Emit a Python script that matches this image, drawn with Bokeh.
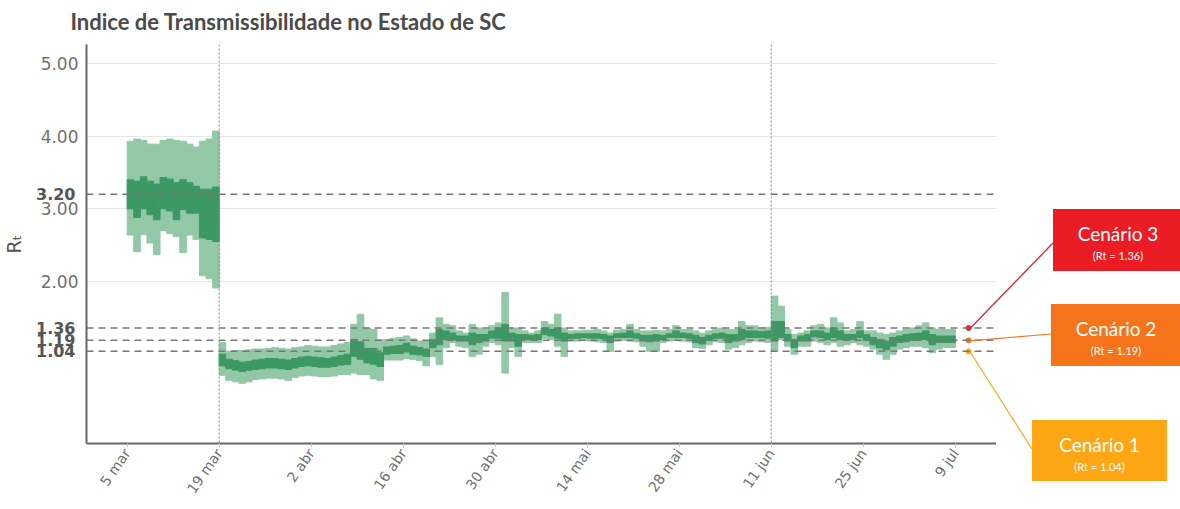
import math
import pandas as pd
from bokeh.plotting import figure
from bokeh.layouts import row
from bokeh.models import (Range1d, FixedTicker, Span, LinearAxis, ColumnDataSource, Div)
from bokeh.embed import file_html
from bokeh.resources import INLINE

# ---------------- data ----------------
start_phase1 = "2020-03-05"   # 14 daily estimates
start_phase2 = "2020-03-19"   # 112 daily estimates

hi95_1 = [3.93, 3.96, 3.94, 3.89, 3.89, 3.94, 3.96, 3.94, 3.93, 3.89, 3.85, 3.93, 3.96, 4.07]
hi50_1 = [3.40, 3.38, 3.44, 3.38, 3.34, 3.43, 3.41, 3.36, 3.40, 3.36, 3.31, 3.27, 3.27, 3.30]
lo50_1 = [3.00, 2.88, 3.00, 2.92, 2.85, 3.00, 2.97, 2.85, 2.99, 2.94, 2.94, 2.60, 2.58, 2.55]
lo95_1 = [2.64, 2.41, 2.65, 2.53, 2.37, 2.70, 2.66, 2.62, 2.40, 2.64, 2.58, 2.08, 2.04, 1.91]

hi95_2 = [1.16, 1.04, 1.05, 1.05, 1.06, 1.07, 1.07, 1.08, 1.09, 1.08, 1.07, 1.09, 1.10, 1.12,
          1.11, 1.10, 1.10, 1.12, 1.14, 1.16, 1.41, 1.55, 1.36, 1.34, 1.20, 1.20, 1.22, 1.23,
          1.25, 1.21, 1.18, 1.18, 1.29, 1.50, 1.41, 1.39, 1.32, 1.29, 1.41, 1.36, 1.34, 1.39,
          1.43, 1.85, 1.36, 1.36, 1.32, 1.29, 1.32, 1.45, 1.41, 1.55, 1.36, 1.32, 1.32, 1.33,
          1.33, 1.34, 1.32, 1.29, 1.33, 1.34, 1.41, 1.34, 1.32, 1.32, 1.33, 1.32, 1.34, 1.39,
          1.34, 1.34, 1.32, 1.29, 1.32, 1.34, 1.36, 1.34, 1.34, 1.45, 1.39, 1.39, 1.36, 1.37,
          1.80, 1.66, 1.34, 1.27, 1.29, 1.32, 1.39, 1.41, 1.36, 1.50, 1.43, 1.32, 1.34, 1.45,
          1.32, 1.32, 1.29, 1.27, 1.29, 1.32, 1.34, 1.36, 1.39, 1.43, 1.36, 1.34, 1.34, 1.34]
hi50_2 = [1.00, 0.93, 0.91, 0.89, 0.90, 0.92, 0.93, 0.94, 0.94, 0.93, 0.92, 0.94, 0.96, 0.97,
          0.96, 0.95, 0.94, 0.96, 0.98, 1.00, 1.20, 1.17, 1.08, 1.08, 1.02, 1.10, 1.11, 1.12,
          1.15, 1.11, 1.09, 1.07, 1.20, 1.34, 1.32, 1.29, 1.25, 1.25, 1.29, 1.27, 1.27, 1.32,
          1.36, 1.41, 1.29, 1.27, 1.27, 1.26, 1.27, 1.36, 1.34, 1.36, 1.29, 1.27, 1.28, 1.28,
          1.28, 1.28, 1.27, 1.25, 1.28, 1.29, 1.32, 1.28, 1.26, 1.26, 1.27, 1.26, 1.28, 1.32,
          1.29, 1.28, 1.26, 1.23, 1.26, 1.28, 1.29, 1.27, 1.27, 1.34, 1.32, 1.32, 1.31, 1.32,
          1.45, 1.45, 1.27, 1.20, 1.25, 1.27, 1.32, 1.32, 1.29, 1.36, 1.32, 1.27, 1.27, 1.32,
          1.27, 1.23, 1.20, 1.18, 1.23, 1.25, 1.27, 1.28, 1.29, 1.32, 1.27, 1.25, 1.25, 1.25]
lo50_2 = [0.84, 0.80, 0.78, 0.76, 0.78, 0.79, 0.80, 0.81, 0.81, 0.80, 0.79, 0.81, 0.83, 0.84,
          0.83, 0.82, 0.82, 0.83, 0.85, 0.86, 0.97, 0.93, 0.88, 0.86, 0.83, 1.00, 1.01, 1.01,
          1.03, 1.00, 0.99, 0.97, 1.09, 1.13, 1.20, 1.20, 1.18, 1.18, 1.13, 1.16, 1.18, 1.22,
          1.22, 1.18, 1.18, 1.11, 1.20, 1.20, 1.20, 1.27, 1.25, 1.22, 1.18, 1.22, 1.22, 1.23,
          1.22, 1.22, 1.21, 1.16, 1.23, 1.23, 1.23, 1.22, 1.18, 1.17, 1.18, 1.20, 1.23, 1.23,
          1.23, 1.22, 1.16, 1.14, 1.19, 1.22, 1.22, 1.16, 1.18, 1.20, 1.23, 1.23, 1.23, 1.22,
          1.18, 1.23, 1.18, 1.09, 1.18, 1.18, 1.24, 1.23, 1.20, 1.23, 1.20, 1.19, 1.20, 1.23,
          1.19, 1.13, 1.09, 1.06, 1.11, 1.16, 1.17, 1.19, 1.20, 1.20, 1.13, 1.16, 1.16, 1.16]
lo95_2 = [0.71, 0.64, 0.62, 0.60, 0.62, 0.65, 0.66, 0.67, 0.67, 0.66, 0.64, 0.68, 0.70, 0.71,
          0.70, 0.69, 0.69, 0.70, 0.72, 0.72, 0.74, 0.72, 0.72, 0.66, 0.64, 0.92, 0.92, 0.92,
          0.94, 0.93, 0.91, 0.84, 0.97, 0.86, 1.09, 1.16, 1.11, 1.09, 0.97, 1.00, 1.11, 1.16,
          1.13, 0.74, 1.09, 0.97, 1.16, 1.16, 1.16, 1.22, 1.20, 1.11, 0.97, 1.18, 1.18, 1.19,
          1.18, 1.17, 1.16, 1.04, 1.18, 1.19, 1.18, 1.17, 1.11, 1.04, 1.04, 1.16, 1.18, 1.19,
          1.18, 1.17, 1.09, 1.08, 1.13, 1.17, 1.16, 1.07, 1.09, 1.13, 1.16, 1.18, 1.17, 1.16,
          1.04, 1.20, 1.11, 1.00, 1.11, 1.11, 1.18, 1.16, 1.13, 1.16, 1.11, 1.13, 1.16, 1.13,
          1.11, 1.07, 1.00, 0.93, 1.00, 1.07, 1.09, 1.11, 1.11, 1.09, 1.02, 1.07, 1.09, 1.09]

tick_dates = ["2020-03-05", "2020-03-19", "2020-04-02", "2020-04-16", "2020-04-30",
              "2020-05-14", "2020-05-28", "2020-06-11", "2020-06-25", "2020-07-09"]
tick_labels = ["5 mar", "19 mar", "2 abr", "16 abr", "30 abr",
               "14 mai", "28 mai", "11 jun", "25 jun", "9 jul"]
y_ticks = [2, 3, 4, 5]
y_tick_labels = ["2.00", "3.00", "4.00", "5.00"]
ref_levels = [3.20, 1.36, 1.19, 1.04]
ref_labels = ["3.20", "1.36", "1.19", "1.04"]
event_dates = ["2020-03-19", "2020-06-11"]

scenario_names = ["Cenário 3", "Cenário 2", "Cenário 1"]
scenario_rt = [1.36, 1.19, 1.04]
scenario_sub = ["(Rt = 1.36)", "(Rt = 1.19)", "(Rt = 1.04)"]
scenario_colors = ["#EC1C24", "#F5731A", "#FFA614"]
scenario_date = "2020-07-11"

# ---------------- layout constants (page pixels) ----------------
FRAME_L, FRAME_T, FRAME_W, FRAME_H = 88, 45, 910, 399
PAGE_T, PAGE_B = 8, 501
SIDE_L, SIDE_R = 998, 1172
OVL_L, OVL_R = 960, 1180          # overlay area for connectors and boxes
# scenario boxes (page px): left, top, width, height, connector y
boxes = [
    (1053, 209, 130, 62, 243),
    (1051, 304, 130, 62, 334),
    (1032, 420, 135, 61, 449),
]


def ms(d):
    return pd.Timestamp(d).value / 1e6


DAY = 86400000.0
LIGHT = "#92C8A6"
DARK = "#3C9962"

X0 = ms("2020-03-05") - 6.19 * DAY
X1 = ms("2020-07-15") + 0.26 * DAY
Y0, Y1 = -0.229, 5.261


def to_page(x, y):
    return (FRAME_L + (x - X0) / (X1 - X0) * FRAME_W,
            FRAME_T + (Y1 - y) / (Y1 - Y0) * FRAME_H)


def band_source(start, hi95, hi50, lo50, lo95):
    days = pd.date_range(start, periods=len(hi95), freq="D")
    left = [ms(d) for d in days]
    right = [l + DAY for l in left]
    return ColumnDataSource(dict(left=left, right=right, hi95=hi95, hi50=hi50,
                                 lo50=lo50, lo95=lo95))


src1 = band_source(start_phase1, hi95_1, hi50_1, lo50_1, lo95_1)
src2 = band_source(start_phase2, hi95_2, hi50_2, lo50_2, lo95_2)

p = figure(frame_width=FRAME_W, frame_height=FRAME_H, x_axis_type="datetime",
           x_range=Range1d(X0, X1), y_range=Range1d(Y0, Y1),
           output_backend="svg", toolbar_location=None,
           min_border_left=80, min_border_right=0, min_border_top=37,
           min_border_bottom=56)
p.outline_line_color = None

# title
p.title.text = "Indice de Transmissibilidade no Estado de SC"
p.title.text_font = "Lato"
p.title.text_font_size = "22px"
p.title.text_font_style = "bold"
p.title.text_color = "#4a4a4a"
p.title.offset = -16
p.title.standoff = 15
p.title.vertical_align = "top"

# bands
for src in (src1, src2):
    p.quad(left="left", right="right", bottom="lo95", top="hi95", source=src,
           fill_color=LIGHT, line_color=LIGHT, line_width=1)
    p.quad(left="left", right="right", bottom="lo50", top="hi50", source=src,
           fill_color=DARK, line_color=DARK, line_width=1)

# x axis
p.xaxis.ticker = FixedTicker(ticks=[ms(d) for d in tick_dates])
p.xaxis.major_label_overrides = {ms(d): lab for d, lab in zip(tick_dates, tick_labels)}
p.xaxis.major_label_orientation = 0.96
p.xaxis.major_label_text_font = "DejaVu Sans"
p.xaxis.major_label_text_font_size = "14px"
p.xaxis.major_label_text_color = "#6e6e6e"
p.xaxis.axis_line_color = "#666666"
p.xaxis.axis_line_width = 2
p.xaxis.major_tick_line_color = "#c8c8c8"
p.xaxis.major_tick_in = 0
p.xaxis.major_tick_out = 4
p.xaxis.minor_tick_line_color = None
p.xaxis.major_label_standoff = 3

# y axis (regular ticks)
ax = p.yaxis[0]
ax.ticker = FixedTicker(ticks=y_ticks)
ax.major_label_overrides = {t: lab for t, lab in zip(y_ticks, y_tick_labels)}
ax.major_label_text_font = "DejaVu Sans"
ax.major_label_text_font_size = "17px"
ax.major_label_text_color = "#707070"
ax.axis_line_color = "#666666"
ax.axis_line_width = 2
ax.major_tick_line_color = None
ax.major_tick_in = 0
ax.major_tick_out = 0
ax.minor_tick_line_color = None
ax.major_label_standoff = 8

# second y axis: bold reference levels drawn over the same column
ref_axis = LinearAxis(ticker=FixedTicker(ticks=ref_levels),
                      major_label_overrides={v: s for v, s in zip(ref_levels, ref_labels)},
                      axis_line_color=None, major_tick_line_color=None,
                      minor_tick_line_color=None, major_tick_in=0, major_tick_out=0,
                      major_label_text_font="DejaVu Sans",
                      major_label_text_font_size="16px",
                      major_label_text_font_style="bold",
                      major_label_text_color="#555555",
                      major_label_standoff=-38,
                      axis_label="Rₜ", axis_label_text_font="DejaVu Sans",
                      axis_label_text_font_size="19px",
                      axis_label_text_font_style="normal",
                      axis_label_text_color="#555555", axis_label_standoff=8)
p.add_layout(ref_axis, "left")

p.xgrid.visible = False
p.ygrid.ticker = FixedTicker(ticks=y_ticks)
p.ygrid.grid_line_color = "#e6e6e6"

# reference lines
for lvl in ref_levels:
    p.add_layout(Span(location=lvl, dimension="width", line_color="#777777",
                      line_dash="7 5", line_width=1.5))
for d in event_dates:
    p.add_layout(Span(location=ms(d), dimension="height", line_color="#888888",
                      line_dash="2 2", line_width=1))

# scenario markers
sx = ms(scenario_date)
p.scatter(x=[sx] * 3, y=scenario_rt, color=scenario_colors, size=5)

# overlay with connectors and scenario boxes (HTML, fixed page-pixel geometry)
OW, OH = OVL_R - OVL_L, PAGE_B - PAGE_T
starts = [to_page(sx, rt) for rt in scenario_rt]
lines = "".join(
    f'<line x1="{s[0]-OVL_L:.2f}" y1="{s[1]-PAGE_T:.2f}" x2="{b[0]-OVL_L}" '
    f'y2="{b[4]-PAGE_T}" stroke="{c}" stroke-width="1.2"/>'
    for s, b, c in zip(starts, boxes, scenario_colors))
cards = "".join(
    f'<div style="position:absolute;left:{b[0]-OVL_L}px;top:{b[1]-PAGE_T}px;'
    f'width:{b[2]}px;height:{b[3]}px;background:{c};color:white;'
    f'font-family:Lato,sans-serif;text-align:center;">'
    f'<div style="position:absolute;left:0;right:0;top:14px;font-size:19px;'
    f'line-height:22px;">{n}</div>'
    f'<div style="position:absolute;left:0;right:0;top:40px;font-size:11px;'
    f'line-height:13px;">{s}</div></div>'
    for b, c, n, s in zip(boxes, scenario_colors, scenario_names, scenario_sub))
html = (f'<div style="position:fixed;left:{OVL_L}px;top:{PAGE_T}px;width:{OW}px;'
        f'height:{OH}px;overflow:hidden;pointer-events:none;">'
        f'<svg width="{OW}" height="{OH}" style="position:absolute;left:0;top:0;">'
        f'{lines}</svg>{cards}</div>')
side = Div(text=html, width=SIDE_R - SIDE_L, height=OH, margin=(0, 0, 0, 0))

layout = row(p, side, spacing=0)
open("out.html", "w").write(file_html(layout, INLINE))
